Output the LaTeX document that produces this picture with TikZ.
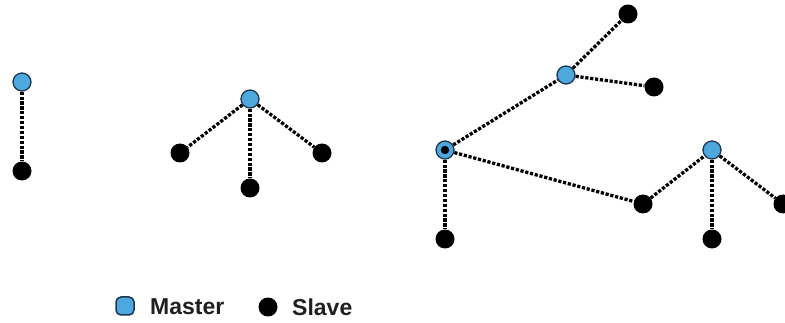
\documentclass[tikz,border=0pt]{standalone}
\usepackage{fontspec}
\setmainfont{Liberation Sans}
\begin{document}
\definecolor{masterblue}{HTML}{4DA8DD}
\definecolor{masterrim}{HTML}{1F3550}
\begin{tikzpicture}[x=1pt,y=-1pt,
  master/.style={circle,draw=masterrim,line width=1.3pt,fill=masterblue,minimum size=18pt,inner sep=0pt},
  slave/.style={circle,fill=black,minimum size=19pt,inner sep=0pt},
  link/.style={line width=3.3pt,dash pattern=on 3.2pt off 1.7pt,black},
  legtext/.style={font=\fontsize{23}{26}\selectfont\bfseries,text=black!88,anchor=west,inner sep=0pt}]
\useasboundingbox (0,0) rectangle (785,323);

% pair: one master, one slave
\node[master] (m1) at (22,82) {};
\node[slave]  (s1) at (22,171) {};
\draw[link] (m1) -- (s1);

% star: one master, three slaves
\node[master] (m2) at (250,99) {};
\node[slave]  (s2a) at (180,153) {};
\node[slave]  (s2b) at (250,188) {};
\node[slave]  (s2c) at (322,153) {};
\draw[link] (m2) -- (s2a);
\draw[link] (m2) -- (s2b);
\draw[link] (m2) -- (s2c);

% scatternet: bridge node plus two piconets
\node[master] (b) at (445,150) {};
\fill (b.center) circle (4.2pt);
\node[slave]  (s3) at (445,239) {};
\node[master] (m3) at (566,75) {};
\node[slave]  (s4) at (628,14) {};
\node[slave]  (s5) at (654,87) {};
\node[slave]  (s6) at (643,204) {};
\node[master] (m4) at (712,150) {};
\node[slave]  (s7) at (712,239) {};
\node[slave]  (s8) at (783,204) {};
\draw[link] (b) -- (s3);
\draw[link] (b) -- (m3);
\draw[link] (m3) -- (s4);
\draw[link] (m3) -- (s5);
\draw[link] (b) -- (s6);
\draw[link] (s6) -- (m4);
\draw[link] (m4) -- (s7);
\draw[link] (m4) -- (s8);

% legend
\node[rectangle,rounded corners=5pt,draw=masterrim,line width=1.5pt,fill=masterblue,minimum width=18pt,minimum height=18pt,inner sep=0pt] (lm) at (125,306) {};
\node[legtext] (lmt) at (150,307) {Master};
\node[slave] (ls) at (268,307) {};
\node[legtext] (lst) at (292,307) {Slave};
\end{tikzpicture}
\end{document}
